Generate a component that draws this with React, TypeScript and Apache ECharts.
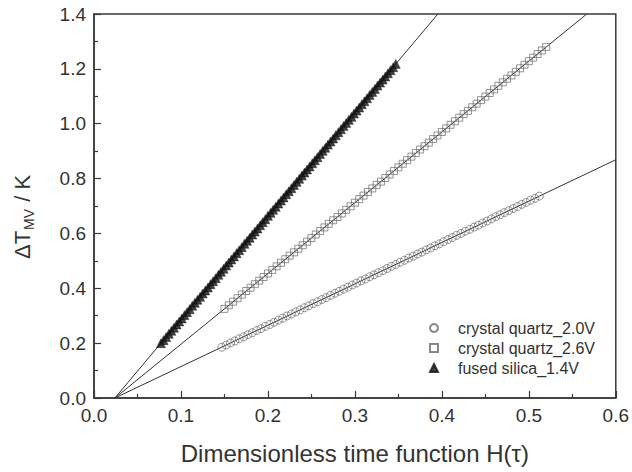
import React, { useEffect, useRef } from "react";
import * as echarts from "echarts";

// crystal quartz_2.0V (circles)
const cq20X = [0.147,0.152,0.157,0.162,0.167,0.172,0.177,0.182,0.187,0.192,0.197,0.202,0.207,0.212,0.217,0.222,0.227,0.232,0.237,0.242,0.247,0.252,0.257,0.262,0.267,0.272,0.277,0.282,0.287,0.292,0.297,0.302,0.307,0.312,0.317,0.322,0.327,0.332,0.337,0.342,0.347,0.352,0.357,0.362,0.367,0.372,0.377,0.382,0.387,0.392,0.397,0.402,0.407,0.412,0.417,0.422,0.427,0.432,0.437,0.442,0.447,0.452,0.457,0.462,0.467,0.472,0.477,0.482,0.487,0.492,0.497,0.502,0.507,0.512];
const cq20Y = [0.185,0.193,0.201,0.208,0.216,0.223,0.231,0.238,0.246,0.253,0.261,0.268,0.276,0.284,0.291,0.299,0.306,0.314,0.321,0.329,0.336,0.344,0.351,0.359,0.366,0.374,0.382,0.389,0.397,0.404,0.412,0.419,0.427,0.434,0.442,0.449,0.457,0.464,0.472,0.480,0.487,0.495,0.502,0.510,0.517,0.525,0.532,0.540,0.547,0.555,0.562,0.570,0.578,0.585,0.593,0.600,0.608,0.615,0.623,0.630,0.638,0.645,0.653,0.661,0.668,0.676,0.683,0.691,0.698,0.706,0.713,0.721,0.728,0.736];

// crystal quartz_2.6V (squares)
const cq26X = [0.150,0.155,0.160,0.165,0.170,0.175,0.180,0.185,0.190,0.195,0.200,0.205,0.210,0.215,0.220,0.225,0.230,0.235,0.240,0.245,0.250,0.255,0.260,0.265,0.270,0.275,0.280,0.285,0.290,0.295,0.300,0.305,0.310,0.315,0.320,0.325,0.330,0.335,0.340,0.345,0.350,0.355,0.360,0.365,0.370,0.375,0.380,0.385,0.390,0.395,0.400,0.405,0.410,0.415,0.420,0.425,0.430,0.435,0.440,0.445,0.450,0.455,0.460,0.465,0.470,0.475,0.480,0.485,0.490,0.495,0.500,0.505,0.510,0.515,0.520];
const cq26Y = [0.325,0.338,0.351,0.364,0.377,0.390,0.402,0.415,0.428,0.441,0.454,0.467,0.480,0.493,0.506,0.519,0.531,0.544,0.557,0.570,0.583,0.596,0.609,0.622,0.635,0.648,0.660,0.673,0.686,0.699,0.712,0.725,0.738,0.751,0.764,0.777,0.789,0.802,0.815,0.828,0.841,0.854,0.867,0.880,0.893,0.906,0.918,0.931,0.944,0.957,0.970,0.983,0.996,1.009,1.022,1.035,1.047,1.060,1.073,1.086,1.099,1.112,1.125,1.138,1.151,1.164,1.176,1.189,1.202,1.215,1.228,1.241,1.254,1.267,1.280];

// fused silica_1.4V (filled triangles)
const fsX = [0.077,0.080,0.083,0.086,0.089,0.092,0.095,0.098,0.101,0.104,0.107,0.110,0.113,0.116,0.119,0.122,0.125,0.128,0.131,0.134,0.137,0.140,0.143,0.146,0.149,0.152,0.155,0.158,0.161,0.164,0.167,0.170,0.173,0.176,0.179,0.182,0.185,0.188,0.191,0.194,0.197,0.200,0.203,0.206,0.209,0.212,0.215,0.218,0.221,0.224,0.227,0.230,0.233,0.236,0.239,0.242,0.245,0.248,0.251,0.254,0.257,0.260,0.263,0.266,0.269,0.272,0.275,0.278,0.281,0.284,0.287,0.290,0.293,0.296,0.299,0.302,0.305,0.308,0.311,0.314,0.317,0.320,0.323,0.326,0.329,0.332,0.335,0.338,0.341,0.344,0.347];
const fsY = [0.200,0.211,0.222,0.234,0.245,0.256,0.268,0.279,0.290,0.302,0.313,0.324,0.336,0.347,0.358,0.369,0.381,0.392,0.403,0.415,0.426,0.437,0.449,0.460,0.471,0.483,0.494,0.505,0.516,0.528,0.539,0.550,0.562,0.573,0.584,0.596,0.607,0.618,0.630,0.641,0.652,0.664,0.675,0.686,0.697,0.709,0.720,0.731,0.743,0.754,0.765,0.777,0.788,0.799,0.811,0.822,0.833,0.844,0.856,0.867,0.878,0.890,0.901,0.912,0.924,0.935,0.946,0.958,0.969,0.980,0.992,1.003,1.014,1.025,1.037,1.048,1.059,1.071,1.082,1.093,1.105,1.116,1.127,1.139,1.150,1.161,1.172,1.184,1.195,1.206,1.218];

// fitted lines (start, end)
const fitCq20 = [[0.024, 0], [0.6, 0.8686]];
const fitCq26 = [[0.024, 0], [0.5666, 1.4]];
const fitFs = [[0.024, 0], [0.3954, 1.4]];

const seriesNames = ["crystal quartz_2.0V", "crystal quartz_2.6V", "fused silica_1.4V"];

const zip = (xs: number[], ys: number[]) => xs.map((x, i) => [x, ys[i]]);

export default function App() {
  const ref = useRef<HTMLDivElement>(null);
  useEffect(() => {
    if (!ref.current) return;
    const chart = echarts.init(ref.current, undefined, { renderer: "svg" });
    const font = "'Liberation Sans', Arial, sans-serif";
    const axisColor = "#3a3a3a";
    const lineStyle = { color: "#333", width: 1 };
    chart.setOption({
      animation: false,
      textStyle: { fontFamily: font },
      grid: {
        left: 94, right: 16, top: 14, bottom: 74,
        show: true, borderColor: axisColor, borderWidth: 1.5,
      },
      legend: {
        data: [
          { name: seriesNames[0], icon: "circle" },
          { name: seriesNames[1], icon: "rect" },
          { name: seriesNames[2], icon: "triangle" },
        ],
        orient: "vertical",
        left: 424,
        top: 315,
        itemWidth: 8,
        itemHeight: 8,
        itemGap: 4,
        textStyle: { fontSize: 16, color: "#333", fontFamily: font, lineHeight: 16, padding: [0, 0, 0, 15] },
      },
      xAxis: {
        type: "value",
        min: 0, max: 0.6, interval: 0.1,
        axisLine: { show: true, lineStyle: { color: axisColor, width: 1.5 } },
        axisTick: { show: true, inside: true, length: 7, lineStyle: { color: axisColor, width: 1.2 } },
        minorTick: { show: true, splitNumber: 2, length: 4, lineStyle: { color: axisColor, width: 1.2 } },
        splitLine: { show: false },
        axisLabel: {
          fontSize: 19, color: "#333", margin: 8, fontFamily: font,
          formatter: (v: number) => v.toFixed(1),
        },
        name: "Dimensionless time function H(τ)",
        nameLocation: "middle",
        nameGap: 43,
        nameTextStyle: { fontSize: 24, color: "#333", fontFamily: font },
      },
      yAxis: {
        type: "value",
        min: 0, max: 1.4, interval: 0.2,
        axisLine: { show: true, lineStyle: { color: axisColor, width: 1.5 } },
        axisTick: { show: true, inside: true, length: 7, lineStyle: { color: axisColor, width: 1.2 } },
        minorTick: { show: true, splitNumber: 2, length: 4, lineStyle: { color: axisColor, width: 1.2 } },
        splitLine: { show: false },
        axisLabel: {
          fontSize: 19, color: "#333", margin: 8, fontFamily: font,
          formatter: (v: number) => v.toFixed(1),
        },
      },
      graphic: [
        {
          type: "text",
          x: 20,
          y: 217,
          rotation: Math.PI / 2,
          style: {
            text: "{a|ΔT}{b|MV}{a| / K}",
            align: "center",
            verticalAlign: "middle",
            fill: "#333",
            rich: {
              a: { fontSize: 22, fontFamily: font, fill: "#333", lineHeight: 26, verticalAlign: "bottom" },
              b: { fontSize: 14, fontFamily: font, fill: "#333", lineHeight: 14, verticalAlign: "bottom", padding: [0, 1, -3, 1] },
            },
          },
        },
      ],
      series: [
        { type: "line", data: fitCq20, symbol: "none", lineStyle, z: 1, silent: true },
        { type: "line", data: fitCq26, symbol: "none", lineStyle, z: 1, silent: true },
        { type: "line", data: fitFs, symbol: "none", lineStyle, z: 1, silent: true },
        {
          name: seriesNames[0], type: "scatter", data: zip(cq20X, cq20Y),
          symbol: "circle", symbolSize: 8, z: 2,
          itemStyle: { color: "rgba(255,255,255,0)", borderColor: "#6a6a6a", borderWidth: 0.9 },
        },
        {
          name: seriesNames[1], type: "scatter", data: zip(cq26X, cq26Y),
          symbol: "rect", symbolSize: 7, z: 2,
          itemStyle: { color: "rgba(255,255,255,0)", borderColor: "#6a6a6a", borderWidth: 0.9 },
        },
        {
          name: seriesNames[2], type: "scatter", data: zip(fsX, fsY),
          symbol: "triangle", symbolSize: 9, z: 3,
          itemStyle: { color: "#111", borderColor: "#111", borderWidth: 0.5 },
        },
      ],
    });
    return () => chart.dispose();
  }, []);
  return (
    <div
      ref={ref}
      style={{ position: "fixed", left: 0, top: 0, width: 632, height: 472, background: "#fff" }}
    />
  );
}
